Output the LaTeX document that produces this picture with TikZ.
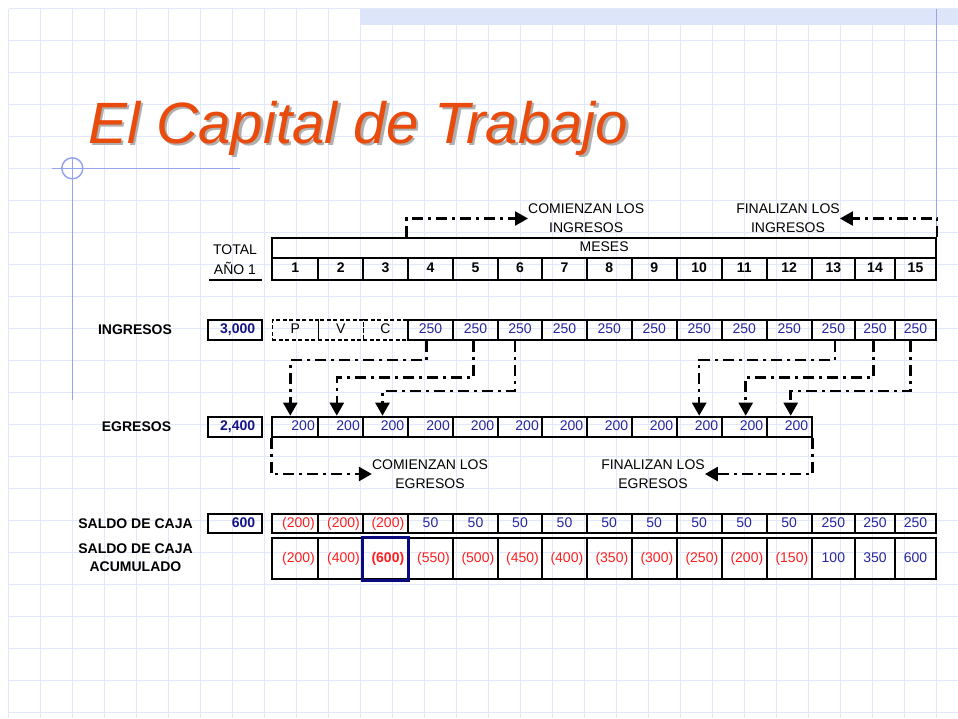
\documentclass[tikz,border=0pt]{standalone}
\usepackage{fontspec}
\setmainfont{Liberation Sans}
\usetikzlibrary{arrows.meta}

\definecolor{numblue}{RGB}{38,38,160}
\definecolor{negred}{RGB}{255,30,30}
\definecolor{totnavy}{RGB}{20,20,135}
\definecolor{boxnavy}{RGB}{10,10,128}
\definecolor{titleorange}{RGB}{233,75,12}
\definecolor{shadowgray}{RGB}{175,175,175}
\definecolor{gridblue}{RGB}{226,231,250}
\definecolor{bandblue}{RGB}{221,229,250}
\definecolor{lineblue}{RGB}{150,165,240}

% left edges of the month columns
\def\colx{{272.3,318.3,363.3,407.7,453.3,497.7,542.3,586.7,631.7,676.7,721.7,766.7,811.7,855,895,936}}
\newcommand{\colbounds}[1]{%
    \pgfmathsetmacro{\cxl}{\colx[#1-1]}%
    \pgfmathsetmacro{\cxr}{\colx[#1]}%
    \pgfmathsetmacro{\cxm}{(\cxl+\cxr)/2}%
    \pgfmathsetmacro{\cxw}{\cxr-\cxl}%
    \pgfmathsetmacro{\cxt}{\cxw-7}}

\tikzset{
    gridline/.style={line width=1.5pt, draw=gridblue},
    deco/.style={line width=1.5pt, draw=lineblue},
    cell/.style={draw, line width=2pt, inner sep=0pt, minimum height=20pt,
        text height=10pt, text depth=3pt, font=\fontsize{14}{16}\selectfont},
    rcell/.style={cell, inner xsep=3.5pt, align=right},
    pvc/.style={cell, line width=1.3pt, dash pattern=on 4pt off 2.5pt},
    totbox/.style={cell, text width=40pt, inner xsep=7pt, align=right,
        text=totnavy, font=\fontsize{14}{16}\selectfont\bfseries},
    rowlabel/.style={font=\fontsize{14}{18}\selectfont\bfseries, align=center},
    note/.style={font=\fontsize{14}{19}\selectfont, align=center, inner sep=0pt},
    flow/.style={line width=2.5pt, dash pattern=on 11pt off 5pt on 3pt off 5pt,
        -{Triangle[length=13pt,width=14pt]}},
    titletext/.style={anchor=base west, inner sep=0pt,
        font=\fontsize{58.3}{60}\selectfont\itshape}
}

\begin{document}
\begin{tikzpicture}[x=1pt, y=-1pt]
    \useasboundingbox (0,0) rectangle (958,718);
    \fill[white] (0,0) rectangle (958,718);

    % squared paper
    \foreach \k in {0,...,29}
        \draw[gridline] ({8.7+32*\k},8.7) -- ({8.7+32*\k},718);
    \foreach \k in {0,...,22}
        \draw[gridline] (8.7,{8.7+32*\k}) -- (958,{8.7+32*\k});
    \fill[bandblue] (360,9) rectangle (958,24.5);
    \draw[deco] (936.7,9) -- (936.7,238);
    \draw[deco] (52,168.3) -- (240,168.3);
    \draw[deco] (72.3,157.8) -- (72.3,400);
    \draw[deco] (72.3,168.3) circle[radius=10.5];

    \node[titletext, text=shadowgray] (sombra) at (90.5,145.5) {El Capital de Trabajo};
    \node[titletext, text=titleorange] (titulo) at (88,143) {El Capital de Trabajo};

    % header
    \node[align=center, font=\fontsize{14}{20}\selectfont] (total) at (235,259.5) {TOTAL\\AÑO 1};
    \draw[line width=2pt] (209,279.5) -- (262,279.5);
    \node[cell, minimum width=663.7] (meses) at (604.15,248) {MESES};
    \foreach \c in {1,...,15} {
        \colbounds{\c}
        \node[cell, minimum width=\cxw, minimum height=22] (m\c) at (\cxm,269) {\bfseries\c};
    }

    % ingresos
    \node[rowlabel] (lingresos) at (135,330) {INGRESOS};
    \node[totbox] (ting) at (235.2,330) {3,000};
    \foreach \c/\v in {1/P,2/V,3/C} {
        \colbounds{\c}
        \node[pvc, minimum width=\cxw] (ing\c) at (\cxm,330) {\v};
    }
    \foreach \c in {4,...,15} {
        \colbounds{\c}
        \node[cell, minimum width=\cxw, text=numblue] (ing\c) at (\cxm,330) {250};
    }

    % egresos
    \node[rowlabel] (legresos) at (136.5,426.7) {EGRESOS};
    \node[totbox] (tegr) at (235.2,426.7) {2,400};
    \foreach \c in {1,...,12} {
        \colbounds{\c}
        \node[rcell, text width=\cxt pt, text=numblue] (egr\c) at (\cxm,426.7) {200};
    }

    % saldo de caja
    \node[rowlabel] (lsaldo) at (135.5,523.7) {SALDO DE CAJA};
    \node[totbox, minimum height=19.3] (tsal) at (235.2,523.7) {600};
    \foreach \c in {1,2,3} {
        \colbounds{\c}
        \node[rcell, minimum height=19.3, text width=\cxt pt, text=negred] (sal\c) at (\cxm,523.7) {(200)};
    }
    \foreach \c/\v in {4/50,5/50,6/50,7/50,8/50,9/50,10/50,11/50,12/50,13/250,14/250,15/250} {
        \colbounds{\c}
        \node[cell, minimum height=19.3, minimum width=\cxw, text=numblue] (sal\c) at (\cxm,523.7) {\v};
    }

    % saldo acumulado
    \node[rowlabel] (lacum) at (135.5,557.5) {SALDO DE CAJA\\ACUMULADO};
    \foreach \c/\v in {1/200,2/400,3/600,4/550,5/500,6/450,7/400,8/350,9/300,10/250,11/200,12/150} {
        \colbounds{\c}
        \node[rcell, minimum height=41, text width=\cxt pt, text=negred] (acu\c) at (\cxm,558.8)
            {\ifnum\c=3 \bfseries\fi(\v)};
    }
    \foreach \c/\v in {13/100,14/350,15/600} {
        \colbounds{\c}
        \node[cell, minimum height=41, minimum width=\cxw, text=numblue] (acu\c) at (\cxm,558.8) {\v};
    }
    \draw[line width=2.5pt, boxnavy] (acu3.south west) rectangle (acu3.north east);

    % start and end of the flows
    \node[note, anchor=west] (cing) at (528,218.5) {COMIENZAN LOS\\INGRESOS};
    \node[note] (fing) at (788,218.5) {FINALIZAN LOS\\INGRESOS};
    \draw[flow] (meses.north -| m4.west) |- (cing.west);
    \draw[flow] (meses.north east) |- (fing.east);

    \draw[flow] ([xshift=-4pt]ing4.south) -- ++(0,19) -| ([xshift=-5pt]egr1.north);
    \draw[flow] ([xshift=-2pt]ing5.south) -- ++(0,36.7) -| ([xshift=-4pt]egr2.north);
    \draw[flow] ([xshift=-5pt]ing6.south) -- ++(0,50) -| ([xshift=-3pt]egr3.north);
    \draw[flow] ([xshift=1.5pt]ing13.south) -- ++(0,19) -| (egr10.north);
    \draw[flow] ([xshift=-1.5pt]ing14.south) -- ++(0,36.7) -| ([xshift=1.5pt]egr11.north);
    \draw[flow] ([xshift=-5pt]ing15.south) -- ++(0,50) -| ([xshift=1.5pt]egr12.north);

    \node[note] (cegr) at (430,474) {COMIENZAN LOS\\EGRESOS};
    \node[note] (fegr) at (653,474) {FINALIZAN LOS\\EGRESOS};
    \draw[flow] (egr1.south west) |- (cegr.west);
    \draw[flow] (egr12.south east) |- (fegr.east);
\end{tikzpicture}
\end{document}
